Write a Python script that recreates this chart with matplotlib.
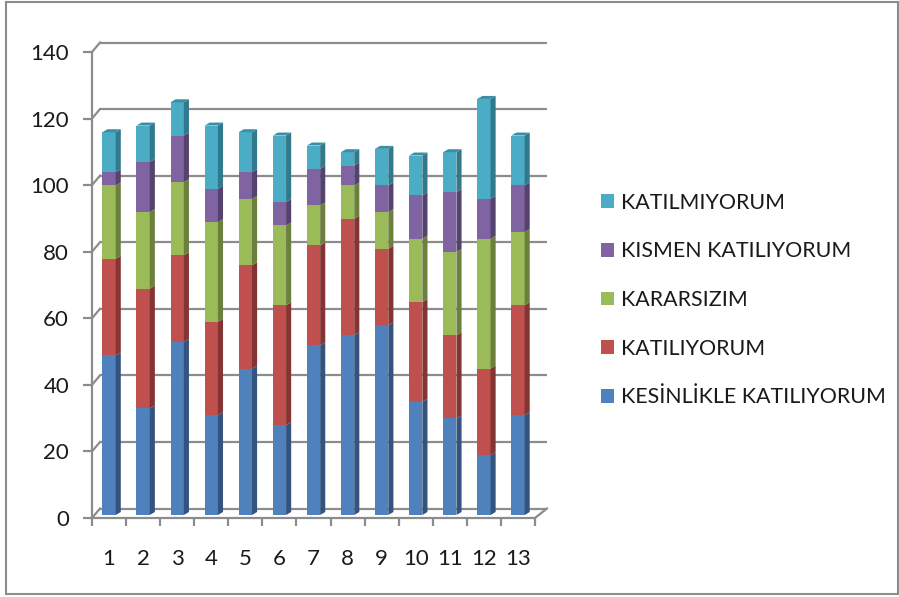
import numpy as np
from matplotlib import pyplot as plt
from matplotlib.patches import Polygon, Rectangle

categories = [str(i) for i in range(1, 14)]
kesinlikle = [48, 32, 52, 30, 44, 27, 51, 54, 57, 34, 29, 18, 30]
katiliyorum = [29, 36, 26, 28, 31, 36, 30, 35, 23, 30, 25, 26, 33]
kararsizim = [22, 23, 22, 30, 20, 24, 12, 10, 11, 19, 25, 39, 22]
kismen = [4, 15, 14, 10, 8, 7, 11, 6, 8, 13, 18, 12, 14]
katilmiyorum = [12, 11, 10, 19, 12, 20, 7, 4, 11, 12, 12, 30, 15]

series = [
    ("KESİNLİKLE KATILIYORUM", kesinlikle, "#4F81BD", "#34547F"),
    ("KATILIYORUM", katiliyorum, "#C0504D", "#843432"),
    ("KARARSIZIM", kararsizim, "#9BBB59", "#6A803C"),
    ("KISMEN KATILIYORUM", kismen, "#8064A2", "#56426E"),
    ("KATILMIYORUM", katilmiyorum, "#4BACC6", "#31798C"),
]
y_ticks = list(range(0, 141, 20))

plt.rcParams['font.family'] = ['Lato', 'DejaVu Sans']

fig = plt.figure(figsize=(8.99, 5.97), dpi=100)
ax = fig.add_axes([92 / 899, 79 / 597, 443 / 899, 466 / 597])
ax.set_xlim(0.5, 13.5)
ax.set_ylim(0, 140)

grid_c = "#8C8C8C"
# pseudo 3d: back wall offset in data units
bx, by = 0.235, 2.85
for v in y_ticks:
    ax.plot([0.5 + bx, 13.5 + 0.35], [v + by, v + by], color=grid_c, lw=1.6,
            zorder=1, clip_on=False, solid_capstyle='butt')
    ax.plot([0.5, 0.5 + bx], [v, v + by], color=grid_c, lw=1.6, zorder=1, clip_on=False)
ax.plot([13.5, 13.5 + 0.35], [0, by], color=grid_c, lw=1.6, zorder=1, clip_on=False)

x = np.arange(1, 14)
w = 0.39
sx, sy = 0.15, 0.9
shift_y = 0.9
bottom = np.zeros(len(x))
for name, vals, col, dark in series:
    vals = np.array(vals)
    ax.bar(x, vals, w, bottom=bottom + shift_y, color=col, label=name,
           zorder=3, linewidth=0)
    for xi, b, h in zip(x, bottom, vals):
        xr = xi + w / 2
        y0 = b + shift_y
        y1 = b + h + shift_y
        ax.add_patch(Polygon([(xr, y0), (xr + sx, y0 + sy), (xr + sx, y1 + sy), (xr, y1)],
                             closed=True, facecolor=dark, edgecolor='none', zorder=3))
    bottom = bottom + vals

# top faces of the stacks
for xi, t in zip(x, bottom):
    xl = xi - w / 2
    xr = xi + w / 2
    yt = t + shift_y
    ax.add_patch(Polygon([(xl, yt), (xl + sx, yt + sy), (xr + sx, yt + sy), (xr, yt)],
                         closed=True, facecolor="#3A8FA6", edgecolor='none', zorder=3))

for s in ['top', 'right']:
    ax.spines[s].set_visible(False)
for s in ['left', 'bottom']:
    ax.spines[s].set_color(grid_c)
    ax.spines[s].set_linewidth(1.6)
    ax.spines[s].set_zorder(4)

ax.set_yticks(y_ticks)
ax.set_xticks(x)
ax.set_xticklabels(categories)
ax.set_xticks(np.arange(0.5, 14, 1), minor=True)
ax.tick_params(axis='y', length=6.5, width=1.6, color=grid_c, pad=10, labelsize=16,
               labelcolor="#1a1a1a")
ax.tick_params(axis='x', which='major', length=0, pad=22, labelsize=16, labelcolor="#1a1a1a")
ax.tick_params(axis='x', which='minor', length=6, width=1.6, color=grid_c)

handles, labels = ax.get_legend_handles_labels()
leg = fig.legend(handles[::-1], labels[::-1], loc='upper left',
                 bbox_to_anchor=(590 / 899, 1 - 182 / 597),
                 frameon=False, fontsize=15.4, labelspacing=1.34, handlelength=0.62,
                 handleheight=0.62, handletextpad=0.35, borderpad=0)
for t in leg.get_texts():
    t.set_color("#1a1a1a")

fig.patches.append(Rectangle((6 / 899, 3 / 597), 892 / 899, 592 / 597, transform=fig.transFigure,
                             fill=False, edgecolor="#8C8C8C", lw=1.5))

plt.savefig("out.png", dpi=100)
